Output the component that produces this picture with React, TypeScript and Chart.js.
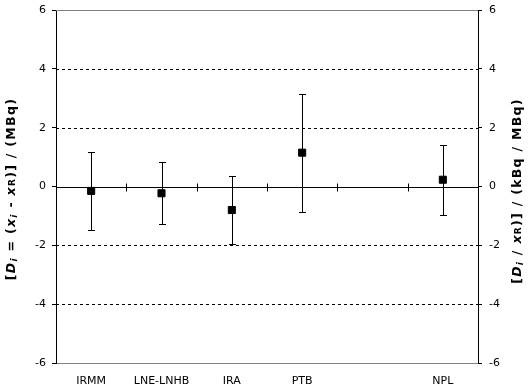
import React, { useEffect, useRef } from "react";
import { Chart, registerables } from "chart.js";

Chart.register(...registerables);

const categories = ["IRMM", "LNE-LNHB", "IRA", "PTB", "", "NPL"];
const values: (number | null)[] = [-0.15, -0.23, -0.8, 1.15, null, 0.23];
const uncertainties: (number | null)[] = [1.32, 1.06, 1.15, 2.01, null, 1.19];
const yTicks = [-6, -4, -2, 0, 2, 4, 6];
const dashedLevels = [-4, -2, 2, 4];

const FONT = "'DejaVu Sans', Verdana, sans-serif";

type Seg = { t: string; italic?: boolean; sub?: boolean; small?: boolean };

const leftTitle: Seg[] = [
  { t: "[" },
  { t: "D", italic: true },
  { t: "i", italic: true, sub: true },
  { t: " = (" },
  { t: "x", italic: true },
  { t: "i", italic: true, sub: true },
  { t: " - " },
  { t: "x", italic: true },
  { t: "R", small: true },
  { t: ")] / (MBq)" },
];
const rightTitle: Seg[] = [
  { t: "[" },
  { t: "D", italic: true },
  { t: "i", italic: true, sub: true },
  { t: " / " },
  { t: "x", italic: true },
  { t: "R", small: true },
  { t: ")] / (kBq / MBq)" },
];

function segFont(s: Seg) {
  const size = s.sub || s.small ? 9 : 12.5;
  return `${s.italic ? "italic " : ""}bold ${size}px ${FONT}`;
}

function drawRich(ctx: CanvasRenderingContext2D, segs: Seg[], cx: number, cy: number) {
  ctx.save();
  ctx.translate(cx, cy);
  ctx.rotate(-Math.PI / 2);
  (ctx as any).letterSpacing = "1.3px";
  let total = 0;
  for (const s of segs) {
    ctx.font = segFont(s);
    total += ctx.measureText(s.t).width;
  }
  let x = -total / 2;
  ctx.fillStyle = "#000";
  ctx.textBaseline = "middle";
  ctx.textAlign = "left";
  for (const s of segs) {
    ctx.font = segFont(s);
    const dy = s.sub ? 3 : s.small ? 1 : 0;
    ctx.fillText(s.t, x, dy);
    x += ctx.measureText(s.t).width;
  }
  ctx.restore();
}

const decorPlugin = {
  id: "decor",
  beforeDatasetsDraw(chart: any) {
    const ctx: CanvasRenderingContext2D = chart.ctx;
    const { left, right, top } = chart.chartArea;
    const ys = chart.scales.y;
    const xs = chart.scales.x;
    ctx.save();
    ctx.strokeStyle = "#000";
    ctx.lineWidth = 1;
    ctx.setLineDash([3, 3]);
    for (const v of dashedLevels) {
      const y = Math.round(ys.getPixelForValue(v)) + 0.5;
      ctx.beginPath();
      ctx.moveTo(left, y);
      ctx.lineTo(right, y);
      ctx.stroke();
    }
    ctx.setLineDash([]);
    ctx.strokeStyle = "#808080";
    const ty = Math.round(top) + 0.5;
    ctx.beginPath();
    ctx.moveTo(left, ty);
    ctx.lineTo(right, ty);
    ctx.stroke();
    ctx.strokeStyle = "#000";
    const y0 = Math.round(ys.getPixelForValue(0)) + 0.5;
    ctx.beginPath();
    ctx.moveTo(left, y0);
    ctx.lineTo(right, y0);
    for (let i = 1; i < categories.length; i++) {
      const x = Math.round((xs.getPixelForValue(i - 1) + xs.getPixelForValue(i)) / 2) + 0.5;
      ctx.moveTo(x, y0 - 4);
      ctx.lineTo(x, y0 + 4);
    }
    ctx.stroke();
    ctx.beginPath();
    values.forEach((v, i) => {
      const u = uncertainties[i];
      if (v == null || u == null) return;
      const x = Math.round(xs.getPixelForValue(i)) + 0.5;
      const yt = Math.round(ys.getPixelForValue(v + u)) + 0.5;
      const yb = Math.round(ys.getPixelForValue(v - u)) + 0.5;
      ctx.moveTo(x, yt);
      ctx.lineTo(x, yb);
      ctx.moveTo(x - 3.5, yt);
      ctx.lineTo(x + 3.5, yt);
      ctx.moveTo(x - 3.5, yb);
      ctx.lineTo(x + 3.5, yb);
    });
    ctx.stroke();
    ctx.restore();
  },
  afterDraw(chart: any) {
    const ctx: CanvasRenderingContext2D = chart.ctx;
    drawRich(ctx, leftTitle, 12, 189);
    drawRich(ctx, rightTitle, 518, 191);
  },
};

export default function App() {
  const ref = useRef<HTMLCanvasElement>(null);
  useEffect(() => {
    document.body.style.margin = "0";
    const canvas = ref.current;
    if (!canvas) return;
    const tickFont = { family: FONT, size: 11 };
    const yCommon = (pos: "left" | "right", width: number, pad: number) => ({
      type: "linear" as const,
      position: pos,
      min: -6,
      max: 6,
      afterBuildTicks: (s: any) => {
        s.ticks = yTicks.map((v) => ({ value: v }));
      },
      afterFit: (s: any) => {
        s.width = width;
        s.paddingTop = 0;
      },
      ticks: { color: "#000", font: tickFont, padding: pad },
      grid: {
        drawOnChartArea: false,
        drawTicks: true,
        tickLength: 4,
        tickColor: "#000",
        color: "#000",
      },
      border: { color: "#000", width: 1 },
    });
    const chart = new Chart(canvas, {
      type: "line",
      data: {
        labels: categories,
        datasets: [
          {
            data: values,
            showLine: false,
            pointStyle: "rect",
            pointRadius: 5,
            backgroundColor: "#000",
            borderColor: "#000",
            borderWidth: 1,
          },
        ],
      },
      options: {
        animation: false,
        responsive: false,
        layout: { padding: { top: 10, left: 0, right: 0, bottom: 0 } },
        plugins: { legend: { display: false }, tooltip: { enabled: false } },
        scales: {
          x: {
            type: "category",
            offset: true,
            position: "bottom",
            afterFit: (s: any) => {
              s.height = 28;
            },
            ticks: { color: "#000", font: tickFont, padding: 12, maxRotation: 0, autoSkip: false },
            grid: { drawOnChartArea: false, drawTicks: false },
            border: { color: "#808080", width: 1 },
          },
          y: yCommon("left", 56, 6),
          y2: yCommon("right", 51, 7),
        },
      },
      plugins: [decorPlugin],
    } as any);
    return () => chart.destroy();
  }, []);
  return (
    <div style={{ width: 529, height: 391, background: "#fff" }}>
      <canvas ref={ref} width={529} height={391} />
    </div>
  );
}
